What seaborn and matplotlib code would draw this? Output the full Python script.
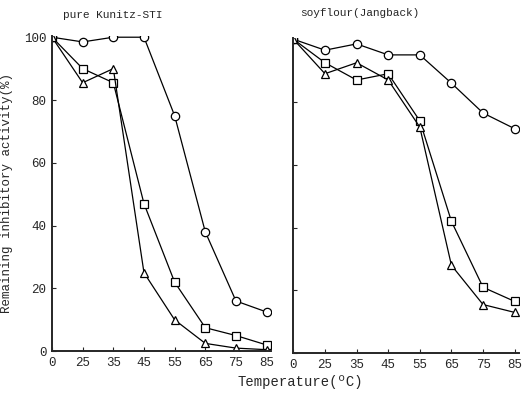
import matplotlib
matplotlib.use("Agg")
import matplotlib.pyplot as plt
import seaborn as sns
import pandas as pd

temps = ["0", "25", "35", "45", "55", "65", "75", "85"]

# pure Kunitz-STI
kunitz_circle = [100, 98.5, 100, 100, 75, 38, 16, 12.5]
kunitz_square = [100, 90, 85.5, 47, 22, 7.5, 5, 2]
kunitz_triangle = [100, 85.5, 90, 25, 10, 2.5, 1, 0.5]

# soyflour (Jangback)
soy_circle = [100, 96.5, 98.5, 95, 95, 86, 76.5, 71.5]
soy_square = [100, 92.5, 87, 89, 74, 42, 21, 16.5]
soy_triangle = [100, 89, 92.5, 87, 72, 28, 15.5, 13]

titles = ["pure Kunitz-STI", "soyflour(Jangback)"]
yticks = [0, 20, 40, 60, 80, 100]

sns.set_style("ticks")
plt.rcParams["font.family"] = ["Liberation Mono", "DejaVu Sans Mono"]

fig = plt.figure(figsize=(5.22, 3.96), dpi=100)
ax1 = fig.add_axes([0.0996, 0.113, 0.42, 0.797])
ax2 = fig.add_axes([0.562, 0.108, 0.433, 0.797])

panels = [
    (ax1, kunitz_circle, kunitz_square, kunitz_triangle),
    (ax2, soy_circle, soy_square, soy_triangle),
]
markers = {"circle": "o", "square": "s", "triangle": "^"}
for i, (ax, c, s, t) in enumerate(panels):
    pos = list(range(len(temps)))
    df = pd.DataFrame({
        "pos": pos * 3,
        "val": c + s + t,
        "series": ["circle"] * 8 + ["square"] * 8 + ["triangle"] * 8,
    })
    for name, sub in df.groupby("series"):
        sns.lineplot(data=sub, x="pos", y="val", ax=ax, color="black",
                     linewidth=0.9, marker=markers[name], markersize=6,
                     markerfacecolor="white", markeredgecolor="black",
                     markeredgewidth=0.9, legend=False)
    ax.set_xlim(0, 7.15)
    ax.set_ylim(0, 100.5)
    ax.set_xticks(pos)
    ax.set_xticklabels(temps, fontsize=9)
    ax.set_yticks(yticks)
    if i == 0:
        ax.set_yticklabels([str(v) for v in yticks], fontsize=9)
        ax.set_ylabel("Remaining inhibitory activity(%)", fontsize=9, labelpad=8)
    else:
        ax.set_yticklabels([])
        ax.set_ylabel("")
    ax.set_xlabel("")
    ax.tick_params(direction="in", length=3, width=0.8, pad=4)
    for sp in ["top", "right"]:
        ax.spines[sp].set_visible(False)
    for sp in ["left", "bottom"]:
        ax.spines[sp].set_linewidth(1.4)
    ax.set_title(titles[i], fontsize=8, loc="left", x=0.05 if i == 0 else 0.03,
                 y=1.055 if i == 0 else 1.067, pad=0)

fig.text(0.575, 0.025, "Temperature(\u00baC)", fontsize=10, ha="center")
fig.savefig("out.png", dpi=100)
